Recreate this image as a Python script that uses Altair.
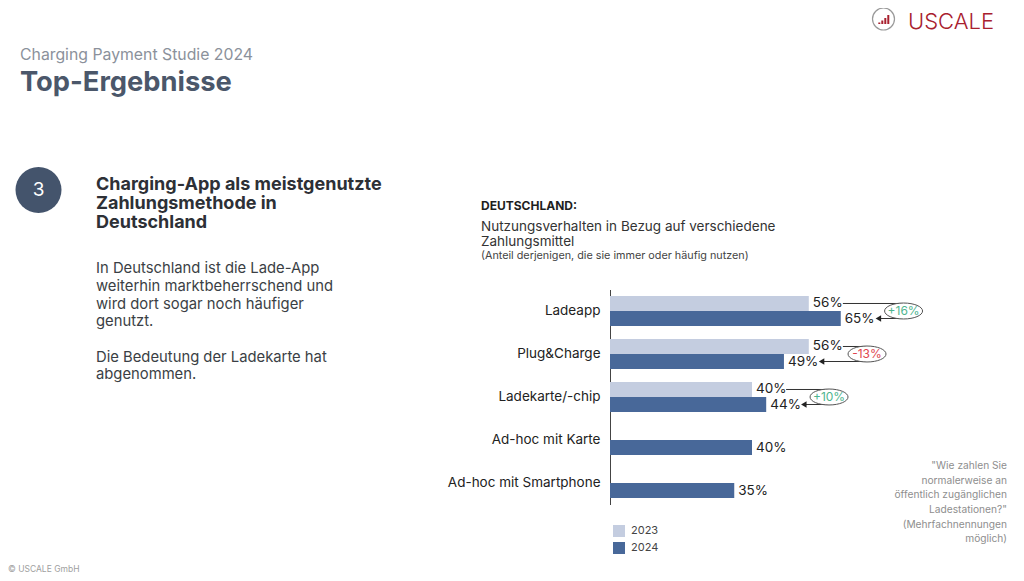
import altair as alt
import pandas as pd

FONT = "Inter"

categories = ["Ladeapp", "Plug&Charge", "Ladekarte/-chip", "Ad-hoc mit Karte", "Ad-hoc mit Smartphone"]
years = ["2023", "2024"]
share_2023 = [56, 56, 40, None, None]
share_2024 = [65, 49, 44, 40, 35]
change_labels = ["+16%", "-13%", "+10%", None, None]

LIGHT = "#c4cde0"
DARK = "#486899"
GREEN = "#4fb58f"
RED = "#e0454f"

rows = []
for c, a, b in zip(categories, share_2023, share_2024):
    if a is not None:
        rows.append({"category": c, "year": "2023", "value": a})
    rows.append({"category": c, "year": "2024", "value": b})
bars_df = pd.DataFrame(rows)

chg_rows = []
for c, a, b, t in zip(categories, share_2023, share_2024, change_labels):
    if t is not None:
        chg_rows.append({"category": c, "v23": a, "v24": b, "change": t})
chg_df = pd.DataFrame(chg_rows)

yscale = alt.Scale(domain=categories, paddingInner=0.302, paddingOuter=0.151)
oscale = alt.Scale(domain=years, paddingInner=0, paddingOuter=0)
xscale = alt.Scale(domain=[0, 100], nice=False)

YAXIS = alt.Axis(labelFont=FONT, labelFontSize=13.5, labelColor="#222",
                 labelPadding=10, ticks=False, grid=False, domainColor="#444",
                 domainWidth=1, labelLimit=300, title=None)
Y = alt.Y("category:N", sort=categories, scale=yscale, title=None, axis=YAXIS)

bars = alt.Chart(bars_df).mark_bar().encode(
    x=alt.X("value:Q", scale=xscale, axis=None),
    y=Y,
    yOffset=alt.YOffset("year:N", scale=oscale),
    color=alt.Color("year:N", scale=alt.Scale(domain=years, range=[LIGHT, DARK]),
                    legend=alt.Legend(title=None, orient="none", legendX=3, legendY=235.5,
                                      symbolType="square", symbolSize=144, symbolStrokeWidth=0,
                                      labelFont=FONT, labelFontSize=11, labelColor="#444",
                                      labelOffset=6, rowPadding=5, padding=0,
                                      direction="vertical")),
)

labels = alt.Chart(bars_df).transform_calculate(
    label="datum.value + '%'"
).mark_text(align="left", dx=4, baseline="middle", fontSize=13.5, font=FONT, color="#222").encode(
    x=alt.X("value:Q", scale=xscale, axis=None),
    y=Y,
    yOffset=alt.YOffset("year:N", scale=oscale),
    text="label:N",
)

base = alt.Chart(chg_df).transform_calculate(
    ell="max(datum.v23 + 16.4, datum.v24 + 17.7)",
    a23="datum.v23 + 9.6",
    arr="datum.v24 + 10.6",
    y23="'2023'",
    y24="'2024'",
)

upper = base.mark_rule(color="#333", strokeWidth=1).encode(
    x=alt.X("a23:Q", scale=xscale, axis=None), x2="ell:Q", y=Y,
    yOffset=alt.YOffset("y23:N", scale=oscale))
lower = base.mark_rule(color="#333", strokeWidth=1).encode(
    x=alt.X("arr:Q", scale=xscale, axis=None), x2="ell:Q", y=Y,
    yOffset=alt.YOffset("y24:N", scale=oscale))
arrow = base.mark_point(shape="triangle-left", filled=True, size=40, color="#222", opacity=1).encode(
    x=alt.X("arr:Q", scale=xscale, axis=None), y=Y,
    yOffset=alt.YOffset("y24:N", scale=oscale))
ELLIPSE = "M -1 0 A 1 0.42 0 1 1 1 0 A 1 0.42 0 1 1 -1 0 Z"
ellipse = base.mark_point(shape=ELLIPSE, filled=True, fill="white", stroke="#555",
                          strokeWidth=1, size=1444, opacity=1).encode(
    x=alt.X("ell:Q", scale=xscale, axis=None), y=Y)
chg_text = base.mark_text(fontSize=12, font=FONT, baseline="middle").encode(
    x=alt.X("ell:Q", scale=xscale, axis=None), y=Y, text="change:N",
    color=alt.condition("datum.v24 < datum.v23", alt.value(RED), alt.value(GREEN)))


def txt(lines, x, y, size, color, weight="normal", align="left", lh=None, baseline="alphabetic"):
    kw = dict(text=lines, align=align, baseline=baseline, fontSize=size, font=FONT,
              color=color, fontWeight=weight)
    if lh is not None:
        kw["lineHeight"] = lh
    return alt.Chart(alt.Data(values=[{}])).mark_text(**kw).encode(
        x=alt.value(x), y=alt.value(y))


one = alt.Data(values=[{}])

layers = [bars, labels, upper, lower, arrow, ellipse, chg_text]

# header
layers.append(txt("Charging Payment Studie 2024", -590, -230, 15.8, "#8b919b"))
layers.append(txt("Top-Ergebnisse", -590, -199, 27.3, "#4b576a", weight="bold"))

# logo
layers.append(alt.Chart(one).mark_point(shape="circle", size=484, stroke="#9a9a9a",
                                        strokeWidth=1.2, filled=False, opacity=1).encode(
    x=alt.value(273.5), y=alt.value(-270.5)))
for bx, top in [(269.3, -267.0), (272.3, -269.0), (275.3, -271.5), (278.3, -274.5)]:
    layers.append(alt.Chart(one).mark_rule(color="#a8202e", strokeWidth=2).encode(
        x=alt.value(bx), y=alt.value(top), y2=alt.value(-265.5)))
layers.append(txt("USCALE", 298, -261, 22, "#a8202e", weight=300))

# number badge
layers.append(alt.Chart(one).mark_point(shape="circle", size=2116, filled=True,
                                        color="#44546c", opacity=1).encode(
    x=alt.value(-571.5), y=alt.value(-99.5)))
layers.append(txt("3", -571.5, -99.5, 19, "white", align="center", baseline="middle"))

# left text
layers.append(txt(["Charging-App als meistgenutzte", "Zahlungsmethode in", "Deutschland"],
                  -514, -100, 18, "#2d3036", weight="bold", lh=19.3))
layers.append(txt(["In Deutschland ist die Lade-App", "weiterhin marktbeherrschend und",
                   "wird dort sogar noch häufiger", "genutzt."],
                  -514, -16.3, 14.8, "#3b3f45", lh=17.7))
layers.append(txt(["Die Bedeutung der Ladekarte hat", "abgenommen."],
                  -514, 72, 14.8, "#3b3f45", lh=17.7))

# chart headings
layers.append(txt("DEUTSCHLAND:", -129, -79.5, 12, "#1f1f1f", weight="bold"))
layers.append(txt(["Nutzungsverhalten in Bezug auf verschiedene", "Zahlungsmittel"],
                  -129, -58.5, 13.5, "#333", lh=14.5))
layers.append(txt("(Anteil derjenigen, die sie immer oder häufig nutzen)", -129, -31, 10.8, "#444"))

# note right
layers.append(txt(['"Wie zahlen Sie', "normalerweise an", "öffentlich zugänglichen", 'Ladestationen?"'],
                  397, 179.5, 10.2, "#8e8e8e", align="right", lh=14.5))
layers.append(txt(["(Mehrfachnennungen", "möglich)"], 397, 238.5, 10.2, "#8e8e8e",
                  align="right", lh=13.5))

# footer
layers.append(txt("© USCALE GmbH", -602, 282.5, 8.5, "#a0a0a0"))

chart = alt.layer(*layers).properties(
    width=355, height=215,
    padding={"left": 602, "top": 281.5, "right": 51, "bottom": 68.5},
    autosize=alt.AutoSizeParams(type="none"),
    background="white",
).configure_view(stroke=None)

chart.save("out.html", embed_options={"renderer": "svg", "actions": False})
